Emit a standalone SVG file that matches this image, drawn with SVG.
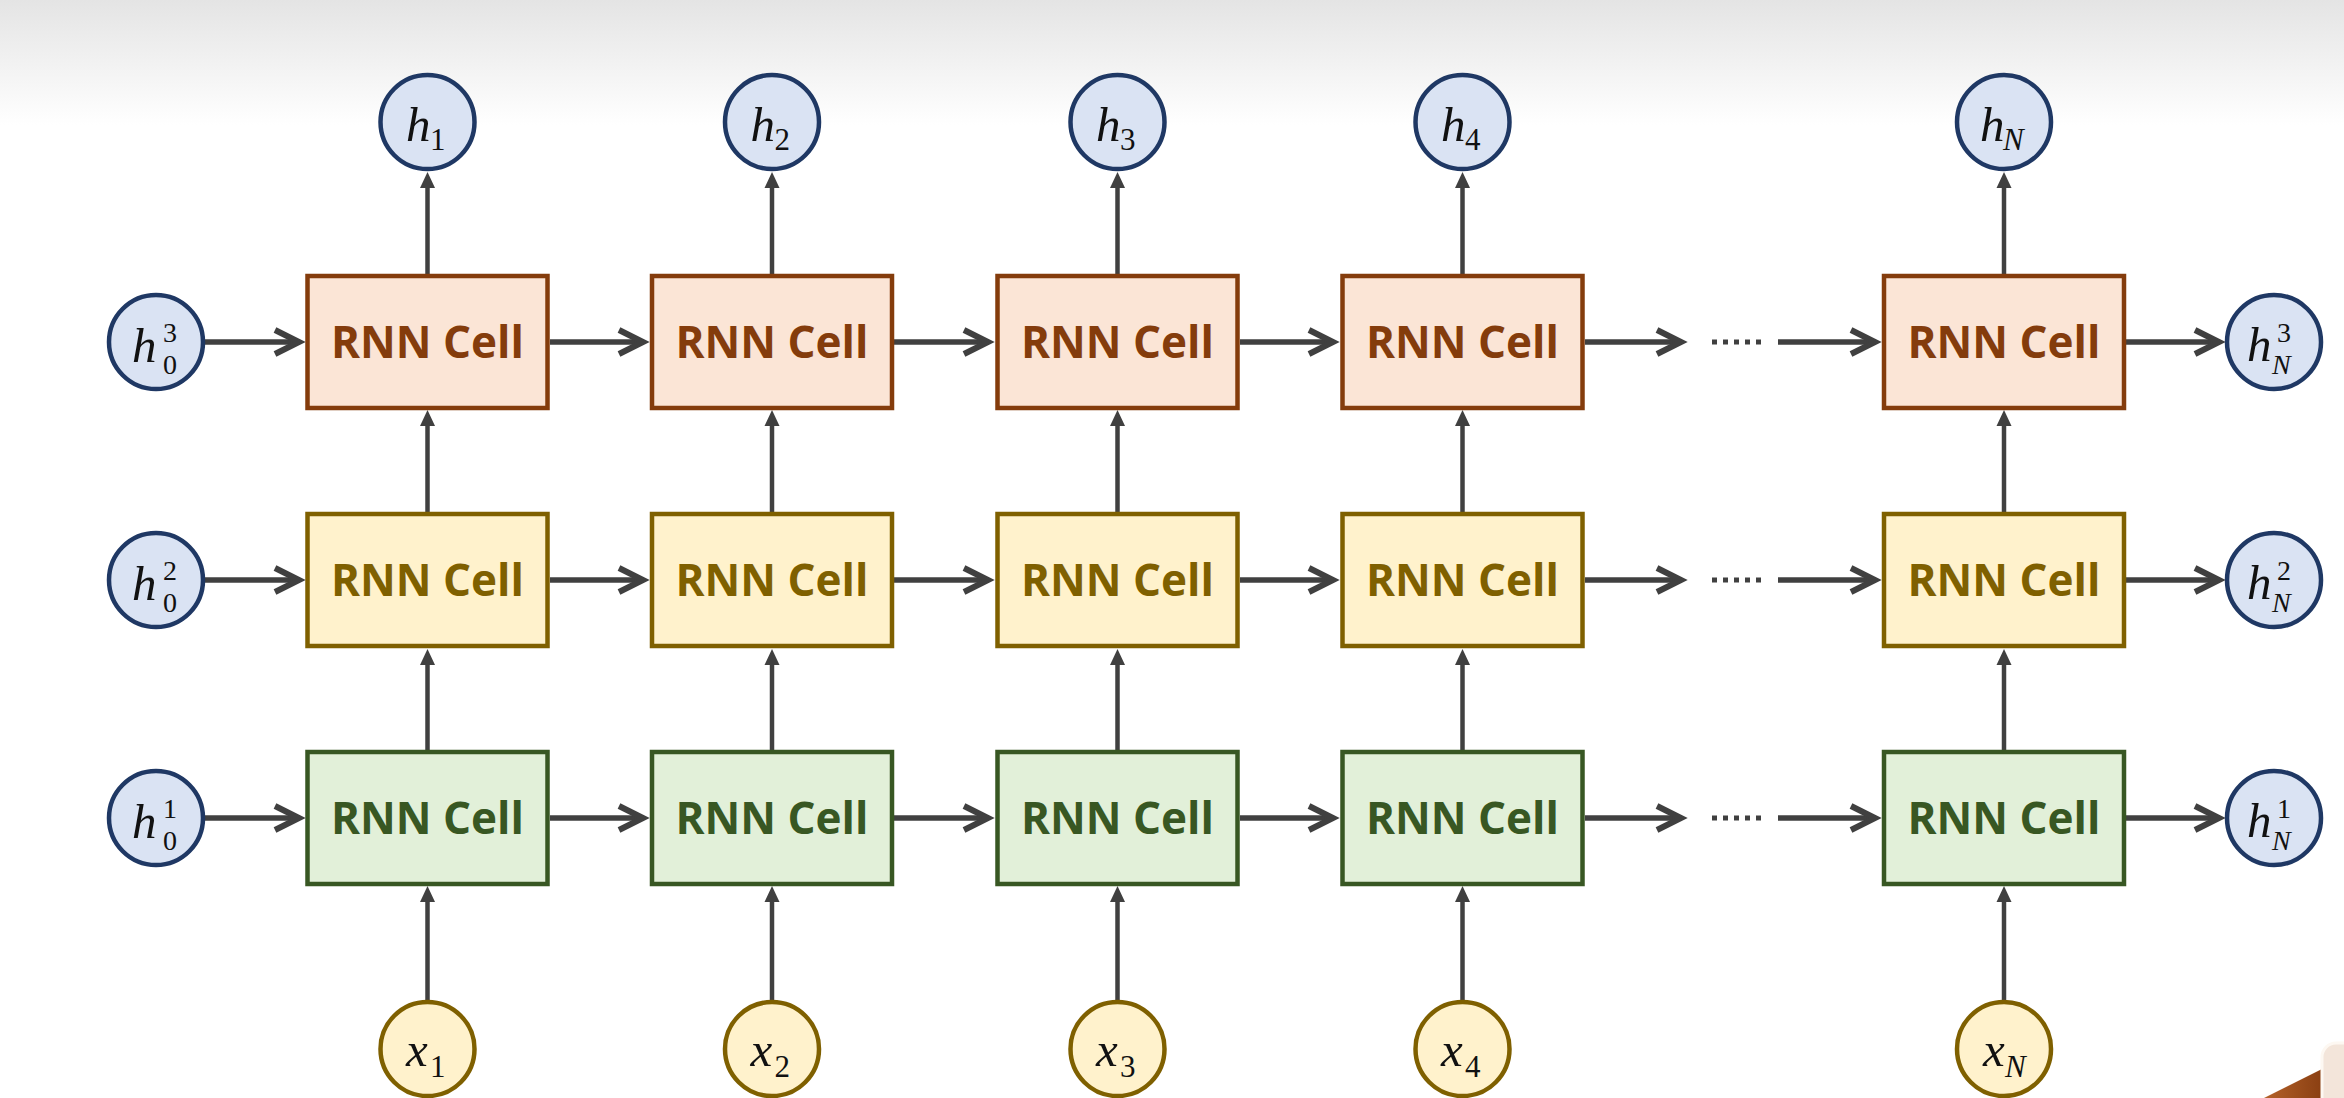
<svg xmlns="http://www.w3.org/2000/svg" width="2344" height="1098" viewBox="0 0 2344 1098">
<style>
.box{stroke-width:4.5}
.r3{fill:#fbe5d6;stroke:#843c0c}
.r2{fill:#fff2cc;stroke:#7f6000}
.r1{fill:#e2f0d9;stroke:#385723}
.lbl{font-family:"Open Sans","Noto Sans",sans-serif;font-weight:700;font-size:44px;text-anchor:middle}
.t3{fill:#843c0c}.t2{fill:#7f6000}.t1{fill:#385723}
.hc{fill:#dae3f3;stroke:#1f3864;stroke-width:4.5}
.xc{fill:#fff2cc;stroke:#7f6000;stroke-width:4.5}
.m{font-family:"Liberation Serif","DejaVu Serif",serif;font-style:italic;font-size:49px;fill:#111}
.s{font-size:31px}
.ss{font-size:28px}
.d{font-style:normal}
.hl{stroke:#404040;stroke-width:5.5;fill:none;marker-end:url(#chev)}
.vl{stroke:#404040;stroke-width:4.5;fill:none;marker-end:url(#tri)}
.dots{stroke:#404040;stroke-width:5;stroke-dasharray:5 6}
</style>
<defs>
<linearGradient id="bg" x1="0" y1="0" x2="0" y2="1">
<stop offset="0" stop-color="#e4e4e4"/>
<stop offset="1" stop-color="#ffffff"/>
</linearGradient>
<linearGradient id="wood" x1="0" y1="0" x2="1" y2="0">
<stop offset="0" stop-color="#b4622a"/>
<stop offset="1" stop-color="#8a3f12"/>
</linearGradient>
<marker id="chev" markerUnits="userSpaceOnUse" markerWidth="40" markerHeight="40" refX="0" refY="0" orient="auto" overflow="visible">
<path d="M-23,-12 L1,0 L-23,12" fill="none" stroke="#404040" stroke-width="6" stroke-linejoin="miter" stroke-miterlimit="10"/>
</marker>
<marker id="tri" markerUnits="userSpaceOnUse" markerWidth="30" markerHeight="30" refX="0" refY="0" orient="auto" overflow="visible">
<path d="M8,0 L-8,-7.5 L-8,7.5 Z" fill="#404040"/>
</marker>
</defs>
<rect x="0" y="0" width="2344" height="1098" fill="#ffffff"/>
<rect x="0" y="0" width="2344" height="125" fill="url(#bg)"/>
<g id="corner-decor">
<polygon points="2264,1098 2322,1069 2322,1098" fill="url(#wood)"/>
<rect x="2322" y="1043" width="40" height="80" rx="14" fill="#f3e5da" stroke="#fdf8f2" stroke-width="3"/>
</g>

<g id="connectors">
<!-- row 3 (top) y=342 -->
<line class="hl" x1="204" y1="342" x2="298" y2="342"/>
<line class="hl" x1="550" y1="342" x2="642" y2="342"/>
<line class="hl" x1="894" y1="342" x2="987" y2="342"/>
<line class="hl" x1="1240" y1="342" x2="1332" y2="342"/>
<line class="hl" x1="1585" y1="342" x2="1680" y2="342"/>
<line class="dots" x1="1712" y1="342" x2="1762" y2="342"/>
<line class="hl" x1="1778" y1="342" x2="1874" y2="342"/>
<line class="hl" x1="2126" y1="342" x2="2218" y2="342"/>
<!-- row 2 y=580 -->
<line class="hl" x1="204" y1="580" x2="298" y2="580"/>
<line class="hl" x1="550" y1="580" x2="642" y2="580"/>
<line class="hl" x1="894" y1="580" x2="987" y2="580"/>
<line class="hl" x1="1240" y1="580" x2="1332" y2="580"/>
<line class="hl" x1="1585" y1="580" x2="1680" y2="580"/>
<line class="dots" x1="1712" y1="580" x2="1762" y2="580"/>
<line class="hl" x1="1778" y1="580" x2="1874" y2="580"/>
<line class="hl" x1="2126" y1="580" x2="2218" y2="580"/>
<!-- row 1 y=818 -->
<line class="hl" x1="204" y1="818" x2="298" y2="818"/>
<line class="hl" x1="550" y1="818" x2="642" y2="818"/>
<line class="hl" x1="894" y1="818" x2="987" y2="818"/>
<line class="hl" x1="1240" y1="818" x2="1332" y2="818"/>
<line class="hl" x1="1585" y1="818" x2="1680" y2="818"/>
<line class="dots" x1="1712" y1="818" x2="1762" y2="818"/>
<line class="hl" x1="1778" y1="818" x2="1874" y2="818"/>
<line class="hl" x1="2126" y1="818" x2="2218" y2="818"/>
<!-- verticals -->
<line class="vl" x1="427.5" y1="1001" x2="427.5" y2="894"/>
<line class="vl" x1="427.5" y1="752" x2="427.5" y2="657"/>
<line class="vl" x1="427.5" y1="514" x2="427.5" y2="418"/>
<line class="vl" x1="427.5" y1="276" x2="427.5" y2="180"/>
<line class="vl" x1="772" y1="1001" x2="772" y2="894"/>
<line class="vl" x1="772" y1="752" x2="772" y2="657"/>
<line class="vl" x1="772" y1="514" x2="772" y2="418"/>
<line class="vl" x1="772" y1="276" x2="772" y2="180"/>
<line class="vl" x1="1117.5" y1="1001" x2="1117.5" y2="894"/>
<line class="vl" x1="1117.5" y1="752" x2="1117.5" y2="657"/>
<line class="vl" x1="1117.5" y1="514" x2="1117.5" y2="418"/>
<line class="vl" x1="1117.5" y1="276" x2="1117.5" y2="180"/>
<line class="vl" x1="1462.5" y1="1001" x2="1462.5" y2="894"/>
<line class="vl" x1="1462.5" y1="752" x2="1462.5" y2="657"/>
<line class="vl" x1="1462.5" y1="514" x2="1462.5" y2="418"/>
<line class="vl" x1="1462.5" y1="276" x2="1462.5" y2="180"/>
<line class="vl" x1="2004" y1="1001" x2="2004" y2="894"/>
<line class="vl" x1="2004" y1="752" x2="2004" y2="657"/>
<line class="vl" x1="2004" y1="514" x2="2004" y2="418"/>
<line class="vl" x1="2004" y1="276" x2="2004" y2="180"/>
</g>

<!-- RNN cells: top row -->
<g id="cell-3-1"><rect class="box r3" x="307.5" y="276" width="240" height="132"/><text class="lbl t3" x="427.5" y="358">RNN Cell</text></g>
<g id="cell-3-2"><rect class="box r3" x="652" y="276" width="240" height="132"/><text class="lbl t3" x="772" y="358">RNN Cell</text></g>
<g id="cell-3-3"><rect class="box r3" x="997.5" y="276" width="240" height="132"/><text class="lbl t3" x="1117.5" y="358">RNN Cell</text></g>
<g id="cell-3-4"><rect class="box r3" x="1342.5" y="276" width="240" height="132"/><text class="lbl t3" x="1462.5" y="358">RNN Cell</text></g>
<g id="cell-3-N"><rect class="box r3" x="1884" y="276" width="240" height="132"/><text class="lbl t3" x="2004" y="358">RNN Cell</text></g>
<!-- middle row -->
<g id="cell-2-1"><rect class="box r2" x="307.5" y="514" width="240" height="132"/><text class="lbl t2" x="427.5" y="596">RNN Cell</text></g>
<g id="cell-2-2"><rect class="box r2" x="652" y="514" width="240" height="132"/><text class="lbl t2" x="772" y="596">RNN Cell</text></g>
<g id="cell-2-3"><rect class="box r2" x="997.5" y="514" width="240" height="132"/><text class="lbl t2" x="1117.5" y="596">RNN Cell</text></g>
<g id="cell-2-4"><rect class="box r2" x="1342.5" y="514" width="240" height="132"/><text class="lbl t2" x="1462.5" y="596">RNN Cell</text></g>
<g id="cell-2-N"><rect class="box r2" x="1884" y="514" width="240" height="132"/><text class="lbl t2" x="2004" y="596">RNN Cell</text></g>
<!-- bottom row -->
<g id="cell-1-1"><rect class="box r1" x="307.5" y="752" width="240" height="132"/><text class="lbl t1" x="427.5" y="834">RNN Cell</text></g>
<g id="cell-1-2"><rect class="box r1" x="652" y="752" width="240" height="132"/><text class="lbl t1" x="772" y="834">RNN Cell</text></g>
<g id="cell-1-3"><rect class="box r1" x="997.5" y="752" width="240" height="132"/><text class="lbl t1" x="1117.5" y="834">RNN Cell</text></g>
<g id="cell-1-4"><rect class="box r1" x="1342.5" y="752" width="240" height="132"/><text class="lbl t1" x="1462.5" y="834">RNN Cell</text></g>
<g id="cell-1-N"><rect class="box r1" x="1884" y="752" width="240" height="132"/><text class="lbl t1" x="2004" y="834">RNN Cell</text></g>

<!-- outputs h_t -->
<g id="h1"><circle class="hc" cx="427.5" cy="122" r="47"/><text class="m"><tspan x="406" y="141">h</tspan><tspan class="s d" x="430" y="150">1</tspan></text></g>
<g id="h2"><circle class="hc" cx="772" cy="122" r="47"/><text class="m"><tspan x="750.5" y="141">h</tspan><tspan class="s d" x="774.5" y="150">2</tspan></text></g>
<g id="h3"><circle class="hc" cx="1117.5" cy="122" r="47"/><text class="m"><tspan x="1096" y="141">h</tspan><tspan class="s d" x="1120" y="150">3</tspan></text></g>
<g id="h4"><circle class="hc" cx="1462.5" cy="122" r="47"/><text class="m"><tspan x="1441" y="141">h</tspan><tspan class="s d" x="1465" y="150">4</tspan></text></g>
<g id="hN"><circle class="hc" cx="2004" cy="122" r="47"/><text class="m"><tspan x="1980" y="141">h</tspan><tspan class="s" x="2003" y="150">N</tspan></text></g>

<!-- initial states -->
<g id="h0-3"><circle class="hc" cx="156" cy="342" r="47"/><text class="m"><tspan x="132" y="362">h</tspan><tspan class="ss d" x="163" y="342">3</tspan><tspan class="ss d" x="163" y="374">0</tspan></text></g>
<g id="h0-2"><circle class="hc" cx="156" cy="580" r="47"/><text class="m"><tspan x="132" y="600">h</tspan><tspan class="ss d" x="163" y="580">2</tspan><tspan class="ss d" x="163" y="612">0</tspan></text></g>
<g id="h0-1"><circle class="hc" cx="156" cy="818" r="47"/><text class="m"><tspan x="132" y="838">h</tspan><tspan class="ss d" x="163" y="818">1</tspan><tspan class="ss d" x="163" y="850">0</tspan></text></g>

<!-- final states -->
<g id="hN-3"><circle class="hc" cx="2274" cy="342" r="47"/><text class="m"><tspan x="2247" y="361">h</tspan><tspan class="ss d" x="2277" y="342">3</tspan><tspan class="ss" x="2272" y="374">N</tspan></text></g>
<g id="hN-2"><circle class="hc" cx="2274" cy="580" r="47"/><text class="m"><tspan x="2247" y="599">h</tspan><tspan class="ss d" x="2277" y="580">2</tspan><tspan class="ss" x="2272" y="612">N</tspan></text></g>
<g id="hN-1"><circle class="hc" cx="2274" cy="818" r="47"/><text class="m"><tspan x="2247" y="837">h</tspan><tspan class="ss d" x="2277" y="818">1</tspan><tspan class="ss" x="2272" y="850">N</tspan></text></g>

<!-- inputs x_t -->
<g id="x1"><circle class="xc" cx="427.5" cy="1049" r="47"/><text class="m"><tspan x="406" y="1066">x</tspan><tspan class="s d" x="430" y="1077">1</tspan></text></g>
<g id="x2"><circle class="xc" cx="772" cy="1049" r="47"/><text class="m"><tspan x="750.5" y="1066">x</tspan><tspan class="s d" x="774.5" y="1077">2</tspan></text></g>
<g id="x3"><circle class="xc" cx="1117.5" cy="1049" r="47"/><text class="m"><tspan x="1096" y="1066">x</tspan><tspan class="s d" x="1120" y="1077">3</tspan></text></g>
<g id="x4"><circle class="xc" cx="1462.5" cy="1049" r="47"/><text class="m"><tspan x="1441" y="1066">x</tspan><tspan class="s d" x="1465" y="1077">4</tspan></text></g>
<g id="xN"><circle class="xc" cx="2004" cy="1049" r="47"/><text class="m"><tspan x="1983" y="1066">x</tspan><tspan class="s" x="2005" y="1077">N</tspan></text></g>
</svg>
